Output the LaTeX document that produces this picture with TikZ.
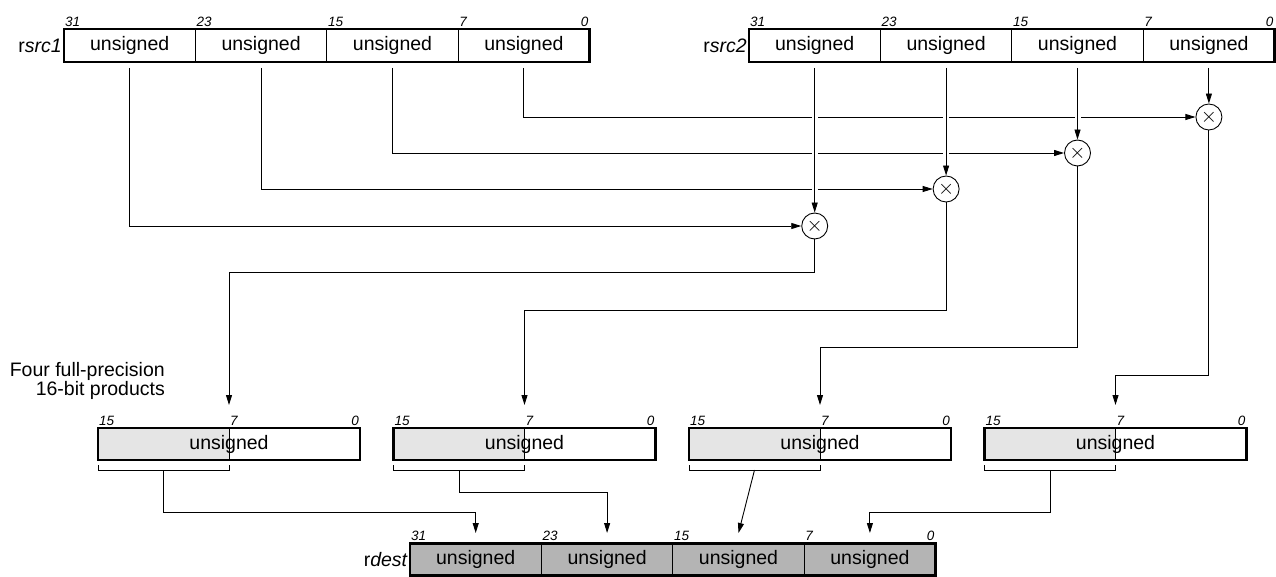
\documentclass[tikz,border=0pt]{standalone}
\usepackage{fontspec}
\setmainfont{Liberation Sans}
\usetikzlibrary{positioning, arrows.meta, calc}
\definecolor{prodgray}{RGB}{229,229,229}
\definecolor{destgray}{RGB}{180,180,180}
\tikzset{
  fld/.style={draw,line width=0.8pt,minimum width=131.4pt,minimum height=33pt,inner sep=0pt,outer sep=0pt,font=\fontsize{19.5}{20}\selectfont},
  dfld/.style={fld,fill=destgray,minimum height=32pt},
  frame/.style={line width=2.6pt},
  bitlbl/.style={font=\fontsize{13.5}{14}\selectfont\itshape,inner xsep=1pt,inner ysep=2.5pt},
  reglbl/.style={font=\fontsize{19.5}{19}\selectfont,inner sep=0pt},
  mul/.style={draw,circle,line width=0.9pt,minimum size=26pt,inner sep=0pt,font=\fontsize{20}{20}\selectfont},
  prod/.style={draw,line width=2.6pt,minimum width=262pt,minimum height=32pt,inner sep=0pt,outer sep=0pt,font=\fontsize{19.5}{20}\selectfont,
    path picture={\fill[prodgray] (path picture bounding box.south west) rectangle (path picture bounding box.north);
                  \draw[line width=0.8pt] (path picture bounding box.south) -- (path picture bounding box.north);},
    label={[bitlbl,anchor=south west]north west:15},label={[bitlbl,anchor=south west]north:7},label={[bitlbl,anchor=south east]north east:0}},
  wire/.style={line width=0.9pt},
  arr/.style={wire,-{Triangle[length=10pt,width=6pt]}},
  gap/.style={preaction={draw,white,line width=6pt,arrows=-,shorten >=14pt}},
}

\begin{document}
\begin{tikzpicture}[x=1pt,y=-1pt]
\useasboundingbox (0,0) rectangle (1276,577);

% rsrc1
\node[fld,anchor=north west,label={[bitlbl,anchor=south west]north west:31}](s1a) at (64,29){unsigned};
\node[fld,right=0pt of s1a,label={[bitlbl,anchor=south west]north west:23}](s1b){unsigned};
\node[fld,right=0pt of s1b,label={[bitlbl,anchor=south west]north west:15}](s1c){unsigned};
\node[fld,right=0pt of s1c,label={[bitlbl,anchor=south west]north west:7},label={[bitlbl,anchor=south east]north east:0}](s1d){unsigned};
\draw[frame](s1a.north west) rectangle (s1d.south east);
\node[reglbl,left=2pt of s1a](r1){r\textit{src1}};

% rsrc2
\node[fld,anchor=north west,label={[bitlbl,anchor=south west]north west:31}](s2a) at (749,29){unsigned};
\node[fld,right=0pt of s2a,label={[bitlbl,anchor=south west]north west:23}](s2b){unsigned};
\node[fld,right=0pt of s2b,label={[bitlbl,anchor=south west]north west:15}](s2c){unsigned};
\node[fld,right=0pt of s2c,label={[bitlbl,anchor=south west]north west:7},label={[bitlbl,anchor=south east]north east:0}](s2d){unsigned};
\draw[frame](s2a.north west) rectangle (s2d.south east);
\node[reglbl,left=2pt of s2a](r2){r\textit{src2}};

% multiplier rows
\coordinate (y1) at (0,226);
\coordinate (y2) at (0,189);
\coordinate (y3) at (0,153);
\coordinate (y4) at (0,117);
\node[mul](m1) at (s2a |- y1){$\times$};
\node[mul](m2) at (s2b |- y2){$\times$};
\node[mul](m3) at (s2c |- y3){$\times$};
\node[mul](m4) at (s2d |- y4){$\times$};

% rsrc1 -> multipliers
\draw[arr]([yshift=-6pt]s1a.south) |- (m1);
\draw[arr]([yshift=-6pt]s1b.south) |- (m2);
\draw[arr]([yshift=-6pt]s1c.south) |- (m3);
\draw[arr]([yshift=-6pt]s1d.south) |- (m4);

% rsrc2 -> multipliers (cut the lines they cross)
\draw[arr,gap]([yshift=-6pt]s2a.south) -- (m1);
\draw[arr,gap]([yshift=-6pt]s2b.south) -- (m2);
\draw[arr,gap]([yshift=-6pt]s2c.south) -- (m3);
\draw[arr,gap]([yshift=-6pt]s2d.south) -- (m4);

% products
\node[prod,anchor=north west](p1) at (98,428){unsigned};
\node[prod,right=33.5pt of p1](p2){unsigned};
\node[prod,right=33.5pt of p2](p3){unsigned};
\node[prod,right=33.5pt of p3](p4){unsigned};
\node[reglbl,align=right,anchor=east](prodlbl) at (165,380.5){Four full-precision\\16-bit products};

\coordinate (h1) at (0,272);
\coordinate (h2) at (0,310);
\coordinate (h3) at (0,347);
\coordinate (h4) at (0,375);
\foreach \i in {1,...,4}{
  \coordinate (p\i in) at ([yshift=23pt]p\i.north);
  \draw[arr](m\i) -- (m\i |- h\i) -| (p\i in);
  \draw[wire]([yshift=-5pt]p\i.south west) |- ([yshift=-10pt]p\i.south) -- ([yshift=-5pt]p\i.south);
  \coordinate (c\i) at ([yshift=-10pt]$(p\i.south west)!0.5!(p\i.south)$);
}

% rdest
\node[dfld,anchor=north west,label={[bitlbl,anchor=south west]north west:31}](d1) at (410,543.5){unsigned};
\node[dfld,right=0pt of d1,label={[bitlbl,anchor=south west]north west:23}](d2){unsigned};
\node[dfld,right=0pt of d2,label={[bitlbl,anchor=south west]north west:15}](d3){unsigned};
\node[dfld,right=0pt of d3,label={[bitlbl,anchor=south west]north west:7},label={[bitlbl,anchor=south east]north east:0}](d4){unsigned};
\draw[frame](d1.north west) rectangle (d4.south east);
\node[reglbl,left=2pt of d1](rd){r\textit{dest}};

\coordinate (g1) at (0,512);
\coordinate (g2) at (0,492);
\foreach \i in {1,...,4}{\coordinate (d\i in) at ([yshift=10.5pt]d\i.north);}
\draw[arr](c1) -- (c1 |- g1) -| (d1in);
\draw[arr](c2) -- (c2 |- g2) -| (d2in);
\draw[arr](c3) -- (d3in);
\draw[arr](c4) -- (c4 |- g1) -| (d4in);

\end{tikzpicture}
\end{document}
